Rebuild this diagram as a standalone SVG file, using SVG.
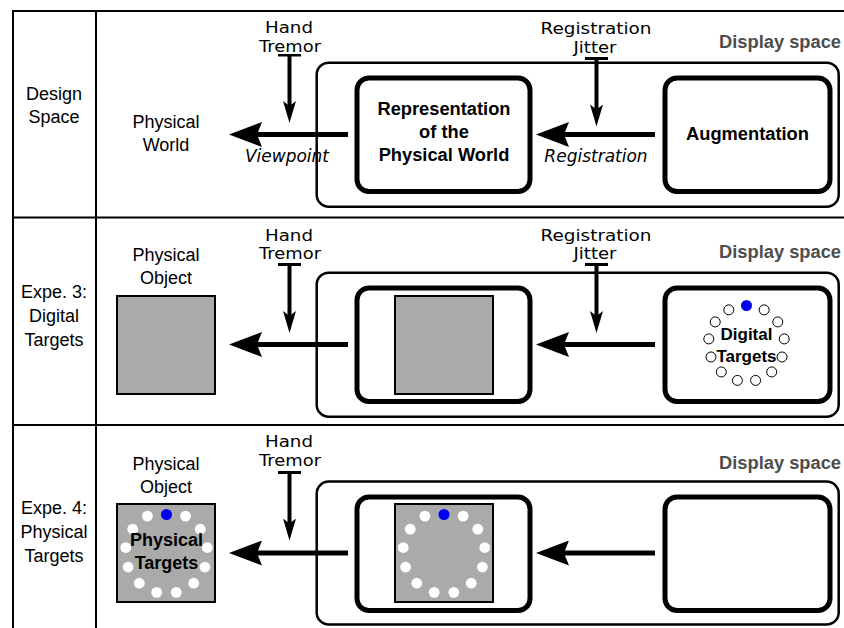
<svg xmlns="http://www.w3.org/2000/svg" xmlns:xlink="http://www.w3.org/1999/xlink" width="844" height="628" viewBox="0 0 844 628">
<style>
text{font-family:"Liberation Sans",Arial,sans-serif;font-size:18px;fill:#000;text-anchor:middle}
.dv{font-family:"DejaVu Sans",sans-serif;font-size:16.5px}
.it{font-family:"DejaVu Sans",sans-serif;font-size:17px;font-style:italic}
.b{font-weight:bold;font-size:18.3px}
.ds{font-weight:bold;font-size:18.3px;fill:#4d4d4d;text-anchor:end}
.grid{stroke:#000;stroke-width:2;fill:none}
.disp{fill:none;stroke:#000;stroke-width:2.5}
.box{fill:#fff;stroke:#000;stroke-width:5}
.obj{fill:#aaa;stroke:#000;stroke-width:2}
.h{stroke:#000;stroke-width:5;fill:none;marker-end:url(#ahH)}
.v{stroke:#000;stroke-width:4;fill:none;marker-start:url(#tee);marker-end:url(#ahV)}
</style>
<defs>
<marker id="ahH" markerUnits="userSpaceOnUse" viewBox="0 -12.5 33 25" markerWidth="33" markerHeight="25" refX="5" refY="0" orient="auto"><path d="M0,-12.5 L33,0 L0,12.5 L5,0 Z" fill="#000"/></marker>
<marker id="ahV" markerUnits="userSpaceOnUse" viewBox="0 -6.5 22 13" markerWidth="22" markerHeight="13" refX="5" refY="0" orient="auto"><path d="M0,-6.5 L22,0 L0,6.5 L5,0 Z" fill="#000"/></marker>
<marker id="tee" markerUnits="userSpaceOnUse" viewBox="-1.5 -11.5 3 23" markerWidth="3" markerHeight="23" refX="0" refY="0" orient="auto"><rect x="-1.5" y="-11.5" width="3" height="23" fill="#000"/></marker>
<g id="ring">
<circle cx="17.66" cy="-33.65" r="5"/><circle cx="31.27" cy="-21.59" r="5"/><circle cx="37.72" cy="-4.58" r="5"/><circle cx="35.53" cy="13.47" r="5"/><circle cx="25.2" cy="28.44" r="5"/><circle cx="9.09" cy="36.89" r="5"/>
<circle cx="-9.09" cy="36.89" r="5"/><circle cx="-25.2" cy="28.44" r="5"/><circle cx="-35.53" cy="13.47" r="5"/><circle cx="-37.72" cy="-4.58" r="5"/><circle cx="-31.27" cy="-21.59" r="5"/><circle cx="-17.66" cy="-33.65" r="5"/>
</g>
</defs>

<g id="table" class="grid">
<line x1="12" y1="11" x2="844" y2="11"/>
<line x1="13" y1="10" x2="13" y2="628"/>
<line x1="96" y1="10" x2="96" y2="628"/>
<line x1="13" y1="217.5" x2="844" y2="217.5"/>
<line x1="13" y1="425" x2="844" y2="425"/>
</g>

<g id="row-labels">
<text x="54" y="99.5">Design</text><text x="54" y="122.5">Space</text>
<text x="54" y="298">Expe. 3:</text><text x="54" y="322">Digital</text><text x="54" y="346">Targets</text>
<text x="54" y="514">Expe. 4:</text><text x="54" y="538">Physical</text><text x="54" y="562">Targets</text>
</g>

<!-- Row 1 -->
<g id="r1-physical-world"><text x="166" y="128">Physical</text><text x="166" y="151">World</text></g>
<g id="r1-display"><rect class="disp" x="316.7" y="62.7" width="522" height="144" rx="12"/><text class="ds" x="841" y="48">Display space</text></g>
<g id="r1-representation"><rect class="box" x="357" y="78" width="173" height="113.5" rx="12"/>
<text class="b" x="444" y="115">Representation</text><text class="b" x="444" y="138">of the</text><text class="b" x="444" y="161">Physical World</text></g>
<g id="r1-augmentation"><rect class="box" x="665" y="78" width="165" height="113.5" rx="12"/><text class="b" x="747.5" y="139.5">Augmentation</text></g>
<g id="r1-hand-tremor"><text class="dv" x="289" y="33" textLength="48" lengthAdjust="spacingAndGlyphs">Hand</text><text class="dv" x="290" y="52" textLength="62" lengthAdjust="spacingAndGlyphs">Tremor</text></g>
<g id="r1-reg-jitter"><text class="dv" x="596" y="34" textLength="111" lengthAdjust="spacingAndGlyphs">Registration</text><text class="dv" x="595" y="52.5" textLength="43" lengthAdjust="spacingAndGlyphs">Jitter</text></g>

<!-- Row 2 -->
<g id="r2-physical-object"><text x="166" y="261">Physical</text><text x="166" y="284">Object</text><rect class="obj" x="117" y="296" width="98" height="98"/></g>
<g id="r2-display"><rect class="disp" x="316.7" y="272.7" width="522" height="144" rx="12"/><text class="ds" x="841" y="258">Display space</text></g>
<g id="r2-representation"><rect class="box" x="357" y="288" width="173" height="113.5" rx="12"/><rect class="obj" x="395" y="296" width="98" height="98"/></g>
<g id="r2-digital-targets"><rect class="box" x="665" y="288" width="165" height="113.5" rx="12"/>
<use xlink:href="#ring" href="#ring" x="746.5" y="343.5" fill="#fff" stroke="#000" stroke-width="1"/>
<circle cx="746.5" cy="305.5" r="5.5" fill="#0000f0"/>
<text class="b" x="746.5" y="339.5" style="font-size:17px">Digital</text><text class="b" x="746.5" y="362" style="font-size:17px">Targets</text></g>
<g id="r2-hand-tremor"><text class="dv" x="289" y="240.5" textLength="48" lengthAdjust="spacingAndGlyphs">Hand</text><text class="dv" x="290" y="259" textLength="62" lengthAdjust="spacingAndGlyphs">Tremor</text></g>
<g id="r2-reg-jitter"><text class="dv" x="596" y="241" textLength="111" lengthAdjust="spacingAndGlyphs">Registration</text><text class="dv" x="595" y="259" textLength="43" lengthAdjust="spacingAndGlyphs">Jitter</text></g>

<!-- Row 3 -->
<g id="r3-physical-object"><text x="166" y="470">Physical</text><text x="166" y="492.5">Object</text><rect class="obj" x="117" y="504" width="98" height="98"/>
<use xlink:href="#ring" href="#ring" x="166.5" y="552.5" fill="#fff" transform="translate(166.5 552.5) scale(1.08) translate(-166.5 -552.5)"/>
<circle cx="166.5" cy="514.5" r="5.5" fill="#0000f0"/>
<text class="b" x="166.5" y="546" style="font-size:18px">Physical</text><text class="b" x="166.5" y="569" style="font-size:18px">Targets</text></g>
<g id="r3-display"><rect class="disp" x="316.7" y="481.5" width="522" height="143" rx="12"/><text class="ds" x="841" y="469">Display space</text></g>
<g id="r3-representation"><rect class="box" x="357" y="497" width="173" height="113.5" rx="12"/><rect class="obj" x="395" y="504" width="98" height="98"/>
<use xlink:href="#ring" href="#ring" x="444" y="552.5" fill="#fff" transform="translate(444 552.5) scale(1.08) translate(-444 -552.5)"/>
<circle cx="444" cy="514.5" r="5.5" fill="#0000f0"/></g>
<g id="r3-augmentation"><rect class="box" x="665" y="497" width="165" height="113.5" rx="12"/></g>
<g id="r3-hand-tremor"><text class="dv" x="289" y="447" textLength="48" lengthAdjust="spacingAndGlyphs">Hand</text><text class="dv" x="290" y="466" textLength="62" lengthAdjust="spacingAndGlyphs">Tremor</text></g>

<g id="connectors">
<line class="h" x1="348" y1="134.5" x2="257" y2="134.5"/>
<line class="h" x1="655" y1="134.5" x2="564" y2="134.5"/>
<line class="v" x1="289.5" y1="55" x2="289.5" y2="106"/>
<line class="v" x1="596.5" y1="58.5" x2="596.5" y2="109.5"/>
<text class="it" x="287" y="162">Viewpoint</text>
<text class="it" x="596" y="162">Registration</text>

<line class="h" x1="348" y1="344.5" x2="257" y2="344.5"/>
<line class="h" x1="655" y1="344.5" x2="564" y2="344.5"/>
<line class="v" x1="289.5" y1="264.5" x2="289.5" y2="316"/>
<line class="v" x1="596.5" y1="264.5" x2="596.5" y2="316"/>

<line class="h" x1="348" y1="553" x2="257" y2="553"/>
<line class="h" x1="655" y1="553" x2="564" y2="553"/>
<line class="v" x1="289.5" y1="472.5" x2="289.5" y2="523.5"/>
</g>
</svg>
